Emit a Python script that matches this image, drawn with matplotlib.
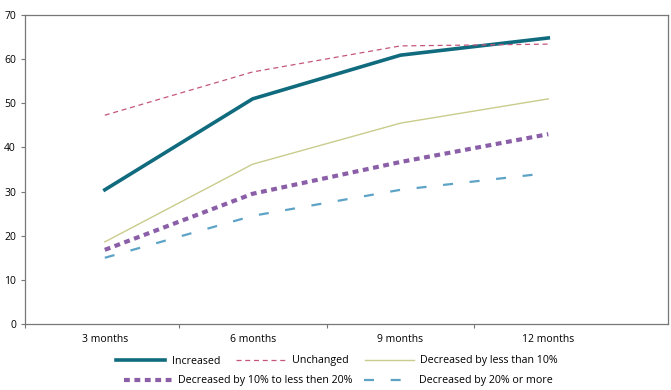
import numpy as np
import matplotlib.pyplot as plt
from matplotlib.lines import Line2D

plt.rcParams['font.family'] = ['Open Sans', 'DejaVu Sans']

# Data
periods = ["3 months", "6 months", "9 months", "12 months"]
increased = [30.4, 51.0, 60.9, 64.8]
unchanged = [47.3, 57.1, 63.0, 63.4]
dec_lt10 = [18.6, 36.2, 45.5, 51.0]
dec_10_20 = [16.8, 29.5, 36.7, 43.0]
dec_ge20 = [15.0, 24.5, 30.4, 34.2]

labels = ["Increased", "Unchanged", "Decreased by less than 10%",
          "Decreased by 10% to less then 20%", "Decreased by 20% or more"]


def main():
    fig = plt.figure(figsize=(6.71, 3.90), dpi=100)
    ax = fig.add_axes([25 / 671, 1 - 324 / 390, 643 / 671, 309 / 390])

    x = np.arange(len(periods))
    styles = [
        dict(color="#0f6b7d", lw=2.6, ls="-"),
        dict(color="#c4557f", lw=0.9, ls=(0, (4, 3))),
        dict(color="#c9cc8c", lw=1.0, ls="-"),
        dict(color="#8b5fa8", lw=3.0, ls=(0, (1.4, 1.1))),
        dict(color="#5da3c6", lw=1.6, ls=(0, (4.5, 7.5))),
    ]
    series = [increased, unchanged, dec_lt10, dec_10_20, dec_ge20]
    handles = []
    for vals, st, lab in zip(series, styles, labels):
        ax.plot(x, vals, **st, label=lab)
        handles.append(Line2D([], [], **st))

    ax.set_xlim(-0.54, 3.81)
    ax.set_ylim(0, 70)
    ax.set_yticks(range(0, 71, 10))
    ax.set_xticks([-0.54, 0.5, 1.5, 2.5])
    ax.set_xticklabels([])
    ax.set_xticks(x, minor=True)
    ax.set_xticklabels(periods, minor=True)
    ax.tick_params(axis="x", which="minor", length=0, pad=7, labelsize=7.5)
    ax.tick_params(axis="x", which="major", length=3, direction="out", color="#777777")
    ax.tick_params(axis="y", length=3, direction="out", labelsize=7.5, color="#777777")
    for s in ax.spines.values():
        s.set_color("#777777")
        s.set_linewidth(0.9)

    # Legend, two rows
    fig.legend(handles[:3], labels[:3], loc="center", bbox_to_anchor=(337 / 671, 1 - 361 / 390),
               ncol=3, frameon=False, fontsize=7.7, handlelength=4.6, columnspacing=1.5,
               handletextpad=0.6)
    fig.legend(handles[3:], labels[3:], loc="center", bbox_to_anchor=(338 / 671, 1 - 381 / 390),
               ncol=2, frameon=False, fontsize=7.7, handlelength=4.6, columnspacing=1.1,
               handletextpad=0.5)

    fig.savefig("out.png", dpi=100)


if __name__ == "__main__":
    main()
